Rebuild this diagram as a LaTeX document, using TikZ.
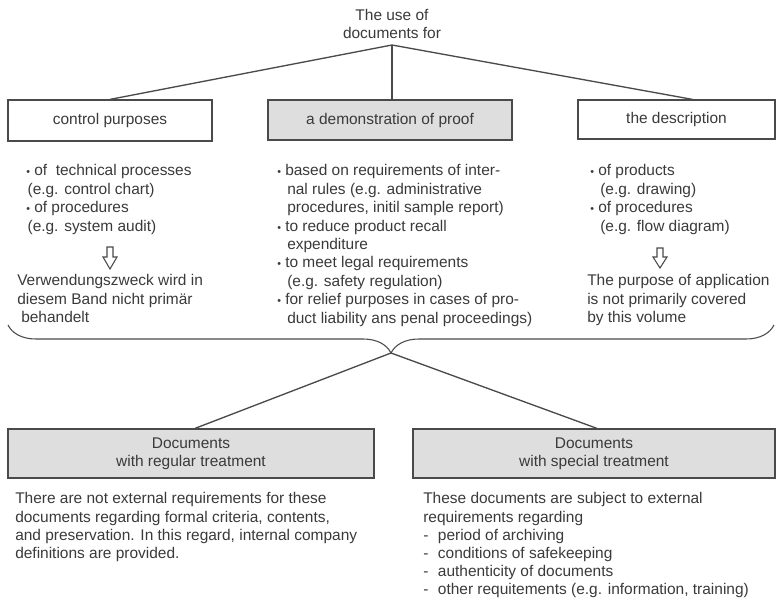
\documentclass[tikz,border=0pt]{standalone}
\usepackage{fontspec}
\setmainfont{Liberation Sans}
\usetikzlibrary{decorations.pathreplacing,calc}
\definecolor{txt}{HTML}{3A3A3A}
\definecolor{edge}{HTML}{4A4A4A}
\definecolor{boxfill}{HTML}{DEDEDE}
\newcommand{\bul}{\makebox[6pt][l]{\footnotesize •}}
\newcommand{\dsh}{\makebox[11pt][l]{-}}
\begin{document}
\begin{tikzpicture}[x=0.75pt,y=-0.75pt,
  every node/.style={font=\fontsize{11.6}{13.8}\selectfont, text=txt, inner sep=0pt},
  box/.style={draw=edge, line width=0.9pt, align=center},
  greybox/.style={box, fill=boxfill},
  para/.style={anchor=north west, align=left},
  conn/.style={draw=edge, line width=1pt},
  hollow/.style={draw=edge, line width=0.8pt, fill=white}]
\useasboundingbox (0,0) rectangle (776,600);

% title
\node[align=center] (title) at (392,24) {The use of\\documents for};
\coordinate (j) at (392,45);

% first row boxes
\node[box, minimum width=153pt, minimum height=30.75pt] (b1) at (110,120.5) {control purposes};
\node[greybox, minimum width=183pt, minimum height=30pt] (b2) at (390,120) {a demonstration of proof};
\node[box, minimum width=147.75pt, minimum height=29.25pt] (b3) at (676.5,119.5) {the description};

\draw[conn] (j) -- (b1.north);
\draw[conn] (j) -- (j |- b2.north);
\draw[conn] (j) -- ($(b3.north)+(16,0)$);

% columns
\node[para] (lc) at (26,164.5) {\bul of~ technical processes\\\hspace*{1pt}(e.g. control chart)\\\bul of procedures\\\hspace*{1pt}(e.g. system audit)};
\node[para] (mc) at (277,164.5) {\bul based on requirements of inter-\\\hspace*{7.5pt}nal rules (e.g. administrative\\\hspace*{7.5pt}procedures, initil sample report)\\\bul to reduce product recall\\\hspace*{7.5pt}expenditure\\\bul to meet legal requirements\\\hspace*{7.5pt}(e.g. safety regulation)\\\bul for relief purposes in cases of pro-\\\hspace*{7.5pt}duct liability ans penal proceedings)};
\node[para] (rc) at (590,164.5) {\bul of products\\\hspace*{7.5pt}(e.g. drawing)\\\bul of procedures\\\hspace*{7.5pt}(e.g. flow diagram)};

% hollow arrows
\draw[hollow] (107,247) -- (113,247) -- (113,257) -- (117,257) -- (110,269) -- (103,257) -- (107,257) -- cycle;
\draw[hollow] (657,248) -- (663,248) -- (663,257) -- (667,257) -- (660,268) -- (653,257) -- (657,257) -- cycle;

\node[para] (lnote) at (17,274.5) {Verwendungszweck wird in\\diesem Band nicht primär\\\hspace*{3pt}behandelt};
\node[para] (rnote) at (587,274.5) {The purpose of application\\is not primarily covered\\by this volume};

% brace
\draw[draw=edge, line width=0.8pt, decorate, decoration={brace, mirror, amplitude=21pt}] (8,325) -- (774,325);
\coordinate (tip) at (391,353);

% bottom boxes
\node[greybox, minimum width=274.5pt, minimum height=36.75pt] (b4) at (191,453.5) {Documents\\with regular treatment};
\node[greybox, minimum width=271.5pt, minimum height=36.75pt] (b5) at (594,453.5) {Documents\\with special treatment};

\draw[conn] (tip) -- ($(b4.north)+(4,0)$);
\draw[conn] (tip) -- ($(b5.north)+(3,0)$);

\node[para, font=\fontsize{11.6}{13.65}\selectfont] (bl) at (15,492.5) {There are not external requirements for these\\documents regarding formal criteria, contents,\\and preservation. In this regard, internal company\\definitions are provided.};
\node[para, font=\fontsize{11.6}{13.65}\selectfont] (br) at (423,492.5) {These documents are subject to external\\requirements regarding\\\dsh period of archiving\\\dsh conditions of safekeeping\\\dsh authenticity of documents\\\dsh other requitements (e.g. information, training)};
\end{tikzpicture}
\end{document}
